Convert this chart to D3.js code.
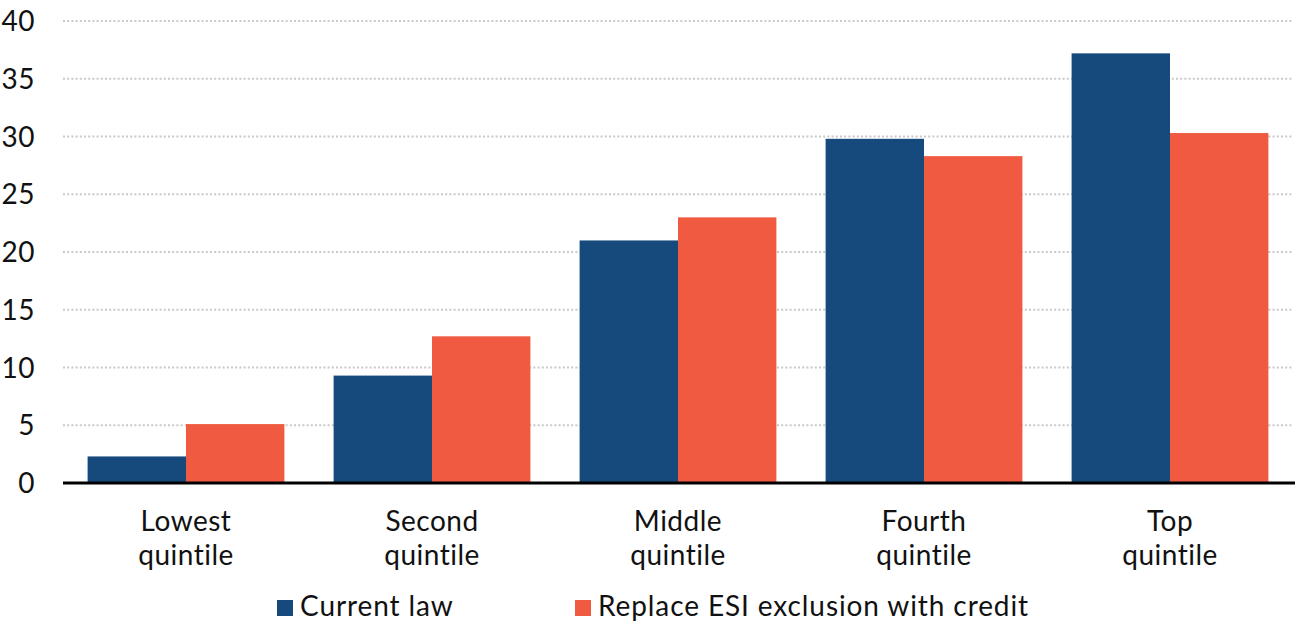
<!DOCTYPE html>
<html>
<head>
<meta charset="utf-8">
<script src="https://cdn.jsdelivr.net/npm/d3@7"></script>
<style>
  html, body { margin: 0; padding: 0; background: #fff; }
  svg { display: block; font-family: Lato, "Open Sans", sans-serif; }
</style>
</head>
<body>
<svg id="chart" width="1308" height="624"></svg>
<script>
// Income quintiles (two-line labels)
const categories = [
  ["Lowest", "quintile"],
  ["Second", "quintile"],
  ["Middle", "quintile"],
  ["Fourth", "quintile"],
  ["Top", "quintile"]
];
const seriesNames = ["Current law", "Replace ESI exclusion with credit"];
const currentLaw = [2.3, 9.3, 21.0, 29.8, 37.2];
const replaceWithCredit = [5.1, 12.7, 23.0, 28.3, 30.3];
const yTicks = [0, 5, 10, 15, 20, 25, 30, 35, 40];
const colors = ["#174a7c", "#f05a40"];

const svg = d3.select("#chart");
const plot = { left: 63, right: 1293, top: 21, bottom: 483 };

const x0 = d3.scaleBand()
  .domain(d3.range(categories.length))
  .range([plot.left, plot.right])
  .paddingInner(0.2)
  .paddingOuter(0.1);

const x1 = d3.scaleBand()
  .domain(d3.range(seriesNames.length))
  .range([0, x0.bandwidth()]);

const y = d3.scaleLinear().domain([0, 40]).range([plot.bottom, plot.top]);

// Dotted horizontal gridlines
svg.append("g")
  .selectAll("line")
  .data(yTicks.filter(d => d > 0))
  .join("line")
  .attr("x1", plot.left)
  .attr("x2", plot.right)
  .attr("y1", d => y(d))
  .attr("y2", d => y(d))
  .attr("stroke", "#c9c9c9")
  .attr("stroke-width", 2)
  .attr("stroke-dasharray", "2,2.2");

// Y tick labels
svg.append("g")
  .selectAll("text")
  .data(yTicks)
  .join("text")
  .attr("x", 35)
  .attr("y", d => y(d))
  .attr("dy", "0.36em")
  .attr("text-anchor", "end")
  .attr("font-size", 28)
  .attr("letter-spacing", 0.5)
  .attr("fill", "#111")
  .text(d => d);

// Bars
const rows = categories.map((c, i) => [currentLaw[i], replaceWithCredit[i]]);
const groups = svg.append("g")
  .selectAll("g")
  .data(rows)
  .join("g")
  .attr("transform", (d, i) => `translate(${x0(i)},0)`);

groups.selectAll("rect")
  .data(d => d.map((v, s) => ({ v, s })))
  .join("rect")
  .attr("x", d => x1(d.s))
  .attr("width", x1.bandwidth())
  .attr("y", d => y(d.v))
  .attr("height", d => y(0) - y(d.v))
  .attr("fill", d => colors[d.s]);

// Baseline
svg.append("line")
  .attr("x1", plot.left)
  .attr("x2", plot.right + 2)
  .attr("y1", y(0))
  .attr("y2", y(0))
  .attr("stroke", "#000")
  .attr("stroke-width", 3);

// Category labels
const catLabels = svg.append("g")
  .selectAll("text")
  .data(categories)
  .join("text")
  .attr("x", (d, i) => x0(i) + x0.bandwidth() / 2)
  .attr("y", 531)
  .attr("text-anchor", "middle")
  .attr("font-size", 28)
  .attr("letter-spacing", 0.5)
  .attr("fill", "#111");
catLabels.selectAll("tspan")
  .data(d => d)
  .join("tspan")
  .attr("x", function () { return this.parentNode.getAttribute("x"); })
  .attr("dy", (d, i) => i === 0 ? 0 : 34)
  .text(d => d);

// Legend
const legendX = [277, 575];
const legend = svg.append("g")
  .selectAll("g")
  .data(seriesNames)
  .join("g")
  .attr("transform", (d, i) => `translate(${legendX[i]},600)`);
legend.append("rect")
  .attr("width", 16)
  .attr("height", 16)
  .attr("fill", (d, i) => colors[i]);
legend.append("text")
  .attr("x", 23)
  .attr("y", 16)
  .attr("font-size", 28)
  .attr("letter-spacing", 0.9)
  .attr("fill", "#111")
  .text(d => d);
</script>
</body>
</html>
